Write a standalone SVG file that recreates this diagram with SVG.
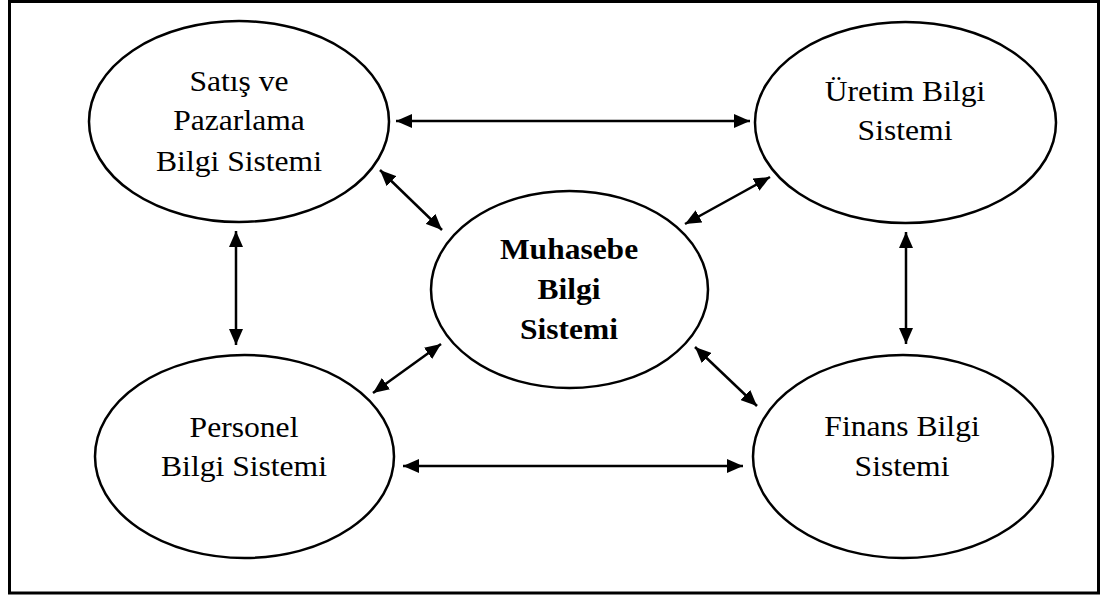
<svg xmlns="http://www.w3.org/2000/svg" width="1104" height="597" viewBox="0 0 1104 597">
<style>
.node ellipse{fill:#fff;stroke:#000;stroke-width:2.5}
.t{font-family:"Liberation Serif","Times New Roman",serif;font-size:29px;fill:#000;text-anchor:middle}
.b{font-weight:bold;font-size:30px}
.conn line{stroke:#000;stroke-width:2.5;marker-start:url(#ah);marker-end:url(#ah)}
</style>
<defs>
<marker id="ah" viewBox="0 0 16 14" refX="16" refY="7" markerWidth="16" markerHeight="14" markerUnits="userSpaceOnUse" orient="auto-start-reverse">
<path d="M0,0 L16,7 L0,14 z" fill="#000"/>
</marker>
</defs>
<rect x="9.5" y="1.5" width="1089" height="591.5" fill="#fff" stroke="#000" stroke-width="3"/>
<g id="connectors" class="conn">
<line x1="396" y1="121" x2="750" y2="121"/>
<line x1="403" y1="466" x2="743" y2="466"/>
<line x1="236" y1="231" x2="236" y2="345"/>
<line x1="906" y1="232" x2="906" y2="344"/>
<line x1="380" y1="170" x2="442" y2="230"/>
<line x1="770" y1="177" x2="685" y2="224"/>
<line x1="441" y1="344" x2="373" y2="393"/>
<line x1="695" y1="347" x2="757" y2="406"/>
</g>
<g id="satis" class="node">
<ellipse cx="239" cy="121.5" rx="150" ry="100.5"/>
<g transform="translate(239,0) scale(1.09,1)">
<text class="t" x="0" y="91">Satış ve</text>
<text class="t" x="0" y="130">Pazarlama</text>
<text class="t" x="0" y="171">Bilgi Sistemi</text>
</g>
</g>
<g id="uretim" class="node">
<ellipse cx="905.5" cy="122.5" rx="150.5" ry="100.5"/>
<g transform="translate(905,0) scale(1.09,1)">
<text class="t" x="0" y="101">Üretim Bilgi</text>
<text class="t" x="0" y="140">Sistemi</text>
</g>
</g>
<g id="muhasebe" class="node">
<ellipse cx="569.5" cy="289.5" rx="138.5" ry="98.5"/>
<g transform="translate(569,0) scale(1.05,1)">
<text class="t b" x="0" y="259">Muhasebe</text>
<text class="t b" x="0" y="299">Bilgi</text>
<text class="t b" x="0" y="339">Sistemi</text>
</g>
</g>
<g id="personel" class="node">
<ellipse cx="244.5" cy="456.5" rx="149.5" ry="101.5"/>
<g transform="translate(244,0) scale(1.09,1)">
<text class="t" x="0" y="437">Personel</text>
<text class="t" x="0" y="476">Bilgi Sistemi</text>
</g>
</g>
<g id="finans" class="node">
<ellipse cx="903" cy="456.5" rx="150" ry="101.5"/>
<g transform="translate(902,0) scale(1.09,1)">
<text class="t" x="0" y="436">Finans Bilgi</text>
<text class="t" x="0" y="476">Sistemi</text>
</g>
</g>
</svg>
